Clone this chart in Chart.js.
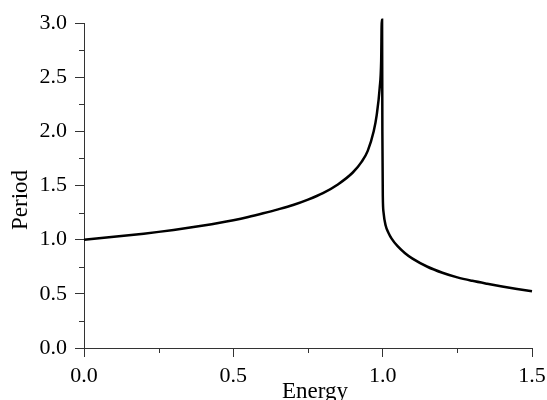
<!DOCTYPE html>
<html>
<head>
<meta charset="utf-8">
<script src="https://cdn.jsdelivr.net/npm/chart.js@4"></script>
<style>
    html, body { margin: 0; padding: 0; background: #fff; }
    #wrap { width: 547px; height: 400px; }
</style>
</head>
<body>
<div id="wrap"><canvas id="periodChart"></canvas></div>
<script>
// Energy values (x) and period values (y)
const energy = [0, 0.05, 0.1, 0.15, 0.2, 0.25, 0.3, 0.35, 0.4, 0.45, 0.5, 0.55, 0.6, 0.65, 0.7,
    0.75, 0.8, 0.85, 0.9, 0.93, 0.95, 0.97, 0.98, 0.99, 0.995, 0.997,
    0.998, 0.999, 1.0005, 1.003, 1.01, 1.02, 1.03, 1.05, 1.075, 1.1, 1.15, 1.2, 1.25, 1.3, 1.35, 1.4, 1.45, 1.5];
const period = [1.0, 1.013, 1.026, 1.04, 1.055, 1.072, 1.09, 1.11, 1.131, 1.154, 1.18, 1.21, 1.244, 1.28, 1.32,
    1.37, 1.43, 1.51, 1.62, 1.72, 1.82, 2.0, 2.15, 2.4, 2.65, 3.03,
    3.03, 2.0, 1.4, 1.25, 1.13, 1.06, 1.01, 0.94, 0.875, 0.825, 0.75, 0.695, 0.652, 0.62, 0.593, 0.568, 0.545, 0.523];
const xTicks = [0, 0.5, 1.0, 1.5];
const yTicks = [0, 0.5, 1.0, 1.5, 2.0, 2.5, 3.0];
const xMinor = [0.25, 0.75, 1.25];
const yMinor = [0.25, 0.75, 1.25, 1.75, 2.25, 2.75];

const axisColor = "#333";
const serif = "'Liberation Serif', 'Times New Roman', serif";

const points = energy.map((e, i) => ({ x: e, y: period[i] }));

// minor ticks and axis titles
const extras = {
    id: "extras",
    afterDraw(chart) {
        const ctx = chart.ctx;
        const x = chart.scales.x;
        const y = chart.scales.y;
        ctx.save();
        ctx.strokeStyle = axisColor;
        ctx.lineWidth = 1;
        xMinor.forEach(v => {
            const px = Math.round(x.getPixelForValue(v)) + 0.5;
            ctx.beginPath();
            ctx.moveTo(px, y.bottom);
            ctx.lineTo(px, y.bottom + 5);
            ctx.stroke();
        });
        yMinor.forEach(v => {
            const py = Math.round(y.getPixelForValue(v)) + 0.5;
            ctx.beginPath();
            ctx.moveTo(x.left - 5, py);
            ctx.lineTo(x.left, py);
            ctx.stroke();
        });
        ctx.fillStyle = "#000";
        ctx.font = "23px " + serif;
        ctx.textAlign = "center";
        ctx.textBaseline = "alphabetic";
        ctx.fillText("Energy", 315, 398);
        ctx.translate(27, 200);
        ctx.rotate(-Math.PI / 2);
        ctx.fillText("Period", 0, 0);
        ctx.restore();
    }
};

new Chart(document.getElementById("periodChart"), {
    type: "scatter",
    data: {
        datasets: [{
            data: points,
            showLine: true,
            borderColor: "#000",
            borderWidth: 2.5,
            pointRadius: 0,
            cubicInterpolationMode: "monotone",
            clip: false
        }]
    },
    options: {
        responsive: true,
        maintainAspectRatio: false,
        animation: false,
        layout: { padding: { left: 0, top: 23, right: 15, bottom: 0 } },
        plugins: { legend: { display: false }, tooltip: { enabled: false } },
        scales: {
            x: {
                type: "linear",
                min: 0,
                max: 1.5,
                afterFit: s => { s.height = 52; s.paddingLeft = 0; s.paddingRight = 0; },
                afterBuildTicks: s => { s.ticks = xTicks.map(v => ({ value: v })); },
                ticks: {
                    color: "#000",
                    font: { family: serif, size: 22 },
                    padding: 6,
                    callback: v => v.toFixed(1)
                },
                grid: { drawOnChartArea: false, tickLength: 9, color: axisColor },
                border: { color: axisColor, width: 1 }
            },
            y: {
                min: 0,
                max: 3,
                afterFit: s => { s.width = 84; s.paddingTop = 0; s.paddingBottom = 0; },
                afterBuildTicks: s => { s.ticks = yTicks.map(v => ({ value: v })); },
                ticks: {
                    color: "#000",
                    font: { family: serif, size: 22 },
                    padding: 8,
                    callback: v => v.toFixed(1)
                },
                grid: { drawOnChartArea: false, tickLength: 9, color: axisColor },
                border: { color: axisColor, width: 1 }
            }
        }
    },
    plugins: [extras]
});
</script>
</body>
</html>
